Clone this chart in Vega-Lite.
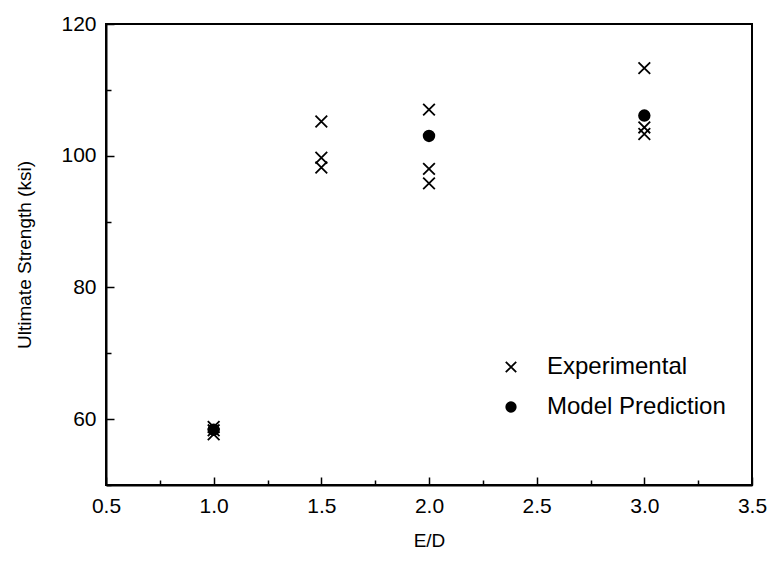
{
  "$schema": "https://vega.github.io/schema/vega-lite/v6.json",
  "autosize": {"type": "none"},
  "padding": {"left": 106, "top": 24, "right": 22, "bottom": 77},
  "width": 646,
  "height": 461,
  "background": "white",
  "title": {
    "text": "(a)",
    "font": "Liberation Sans",
    "fontSize": 21,
    "fontWeight": "normal",
    "color": "black",
    "anchor": "middle",
    "dx": -50,
    "offset": 20,
    "baseline": "alphabetic"
  },
  "config": {
    "view": {"stroke": "black", "strokeWidth": 2},
    "font": "Liberation Sans",
    "axis": {
      "domainColor": "black",
      "domainWidth": 2,
      "tickColor": "black",
      "tickWidth": 1.5,
      "grid": false,
      "labelFont": "Liberation Sans",
      "labelFontSize": 21,
      "labelColor": "black",
      "titleFont": "Liberation Sans",
      "titleFontSize": 19,
      "titleFontWeight": "normal",
      "titleColor": "black"
    },
    "legend": {
      "title": null,
      "orient": "none",
      "legendX": 393,
      "legendY": 331,
      "padding": 0,
      "labelFont": "Liberation Sans",
      "labelFontSize": 24,
      "labelColor": "black",
      "labelLimit": 400,
      "labelOffset": 24,
      "rowPadding": 16,
      "symbolSize": 90,
      "symbolStrokeColor": "black",
      "symbolStrokeWidth": 1.8
    }
  },
  "data": {
    "values": [
      {"ed": 1.0, "strength": 58.8, "series": "Experimental"},
      {"ed": 1.0, "strength": 58.3, "series": "Experimental"},
      {"ed": 1.0, "strength": 57.7, "series": "Experimental"},
      {"ed": 1.0, "strength": 58.4, "series": "Model Prediction"},
      {"ed": 1.5, "strength": 105.2, "series": "Experimental"},
      {"ed": 1.5, "strength": 99.7, "series": "Experimental"},
      {"ed": 1.5, "strength": 98.2, "series": "Experimental"},
      {"ed": 2.0, "strength": 107.0, "series": "Experimental"},
      {"ed": 2.0, "strength": 98.0, "series": "Experimental"},
      {"ed": 2.0, "strength": 95.8, "series": "Experimental"},
      {"ed": 2.0, "strength": 103.0, "series": "Model Prediction"},
      {"ed": 3.0, "strength": 113.3, "series": "Experimental"},
      {"ed": 3.0, "strength": 104.3, "series": "Experimental"},
      {"ed": 3.0, "strength": 103.3, "series": "Experimental"},
      {"ed": 3.0, "strength": 106.1, "series": "Model Prediction"}
    ]
  },
  "mark": {"type": "point", "filled": false, "strokeWidth": 1.8, "size": 113, "opacity": 1},
  "encoding": {
    "x": {
      "field": "ed",
      "type": "quantitative",
      "scale": {"domain": [0.5, 3.5], "nice": false, "zero": false},
      "axis": {
        "title": "E/D",
        "titlePadding": 12,
        "values": [0.5, 0.75, 1.0, 1.25, 1.5, 1.75, 2.0, 2.25, 2.5, 2.75, 3.0, 3.25, 3.5],
        "labelExpr": "datum.value % 0.5 === 0 ? format(datum.value, '.1f') : ''",
        "tickSize": {"condition": {"test": "datum.value % 0.5 === 0", "value": -8}, "value": -5},
        "labelPadding": 18,
        "labelFlush": false,
        "labelOverlap": false
      }
    },
    "y": {
      "field": "strength",
      "type": "quantitative",
      "scale": {"domain": [50, 120], "nice": false, "zero": false},
      "axis": {
        "title": "Ultimate Strength (ksi)",
        "titlePadding": 26,
        "values": [50, 60, 70, 80, 90, 100, 110, 120],
        "labelExpr": "datum.value % 20 === 0 ? format(datum.value, 'd') : ''",
        "tickSize": {"condition": {"test": "datum.value % 20 === 0", "value": -8}, "value": -5},
        "labelPadding": 18,
        "labelFlush": false,
        "labelOverlap": false
      }
    },
    "shape": {
      "field": "series",
      "type": "nominal",
      "scale": {"domain": ["Experimental", "Model Prediction"], "range": ["M-1.1,-1.1L1.1,1.1M-1.1,1.1L1.1,-1.1", "circle"]}
    },
    "fill": {
      "field": "series",
      "type": "nominal",
      "scale": {"domain": ["Experimental", "Model Prediction"], "range": ["transparent", "black"]}
    },
    "stroke": {
      "field": "series",
      "type": "nominal",
      "scale": {"domain": ["Experimental", "Model Prediction"], "range": ["black", "black"]}
    }
  }
}
